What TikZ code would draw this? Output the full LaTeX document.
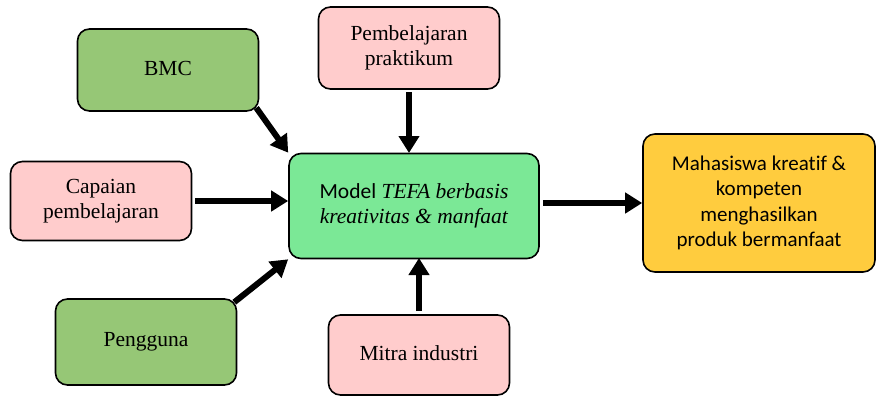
\documentclass[tikz,border=0pt]{standalone}
\usepackage{fontspec}
\setmainfont{Liberation Serif}
\newfontfamily\calibri[Ligatures=NoCommon]{Carlito}
\usetikzlibrary{arrows.meta,positioning}

\definecolor{boxgreen}{RGB}{150,199,118}
\definecolor{boxpink}{RGB}{255,204,204}
\definecolor{boxmint}{RGB}{123,232,150}
\definecolor{boxgold}{RGB}{255,204,62}

\begin{document}
\begin{tikzpicture}[x=1pt, y=-1pt,
    box/.style={draw, line width=1.6pt, rounded corners=12pt, align=center,
        minimum width=181pt, minimum height=82pt, inner sep=2pt,
        font=\fontsize{21.5}{25}\selectfont},
    bigarrow/.style={line width=6pt, -{Triangle[length=17pt,width=20pt]}}]
    \useasboundingbox (0,0) rectangle (876,399);

    % inputs
    \node[box, fill=boxgreen] (bmc) at (168,70) {\raisebox{4pt}{BMC}};
    \node[box, fill=boxpink] (praktikum) at (409,48) {Pembelajaran\\praktikum};
    \node[box, fill=boxpink, minimum height=79pt] (capaian) at (101,201) {Capaian\\pembelajaran};
    \node[box, fill=boxgreen, minimum height=86pt] (pengguna) at (146,342) {\raisebox{3pt}{Pengguna}};
    \node[box, fill=boxpink, minimum height=80pt] (mitra) at (419,355) {\raisebox{3pt}{Mitra industri}};

    % model and outcome
    \node[box, fill=boxmint, minimum width=250pt, minimum height=105pt] (model) at (414,206)
        {{\calibri Model} \textit{TEFA berbasis}\\\textit{kreativitas \& manfaat}};
    \node[box, fill=boxgold, minimum width=232pt, minimum height=138pt,
        font=\calibri\fontsize{21}{25.5}\selectfont] (hasil) at (759,203)
        {Mahasiswa kreatif \&\\kompeten\\menghasilkan\\produk bermanfaat};

    % arrows
    \draw[bigarrow] (bmc.south east) ++(-3,-4) -- (model.north west);
    \draw[bigarrow] (praktikum) ++(0,44) -- (409,153);
    \draw[bigarrow] ([xshift=3pt]capaian.east) -- (capaian.east -| model.west);
    \draw[bigarrow] (pengguna.north east) ++(-3,4) -- (model.south west);
    \draw[bigarrow] (mitra.north) ++(0,-3) -- (419,258);
    \draw[bigarrow] ([xshift=3pt]model.east |- hasil.west) -- (hasil.west);
\end{tikzpicture}
\end{document}
